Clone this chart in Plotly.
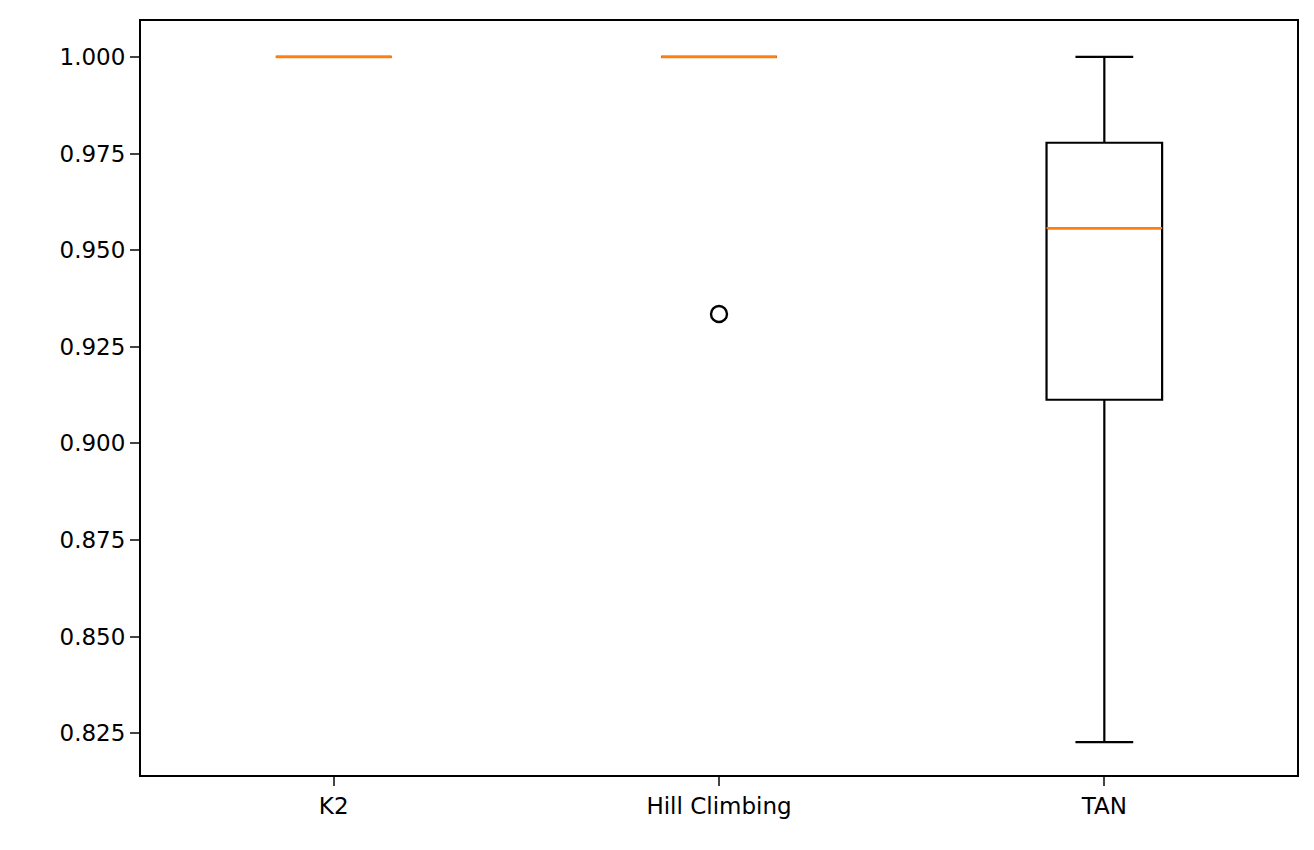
import plotly.graph_objects as go

categories = ["K2", "Hill Climbing", "TAN"]
positions = [1, 2, 3]
q1 = [1.0, 1.0, 0.9113]
median = [1.0, 1.0, 0.9557]
q3 = [1.0, 1.0, 0.9778]
lower = [1.0, 1.0, 0.8227]
upper = [1.0, 1.0, 1.0]
outlier_x = [2]
outlier_y = [0.9335]
yticks = [0.825, 0.850, 0.875, 0.900, 0.925, 0.950, 0.975, 1.000]

fig = go.Figure()
fig.add_trace(go.Box(x=positions, q1=q1, median=median, q3=q3,
                     lowerfence=lower, upperfence=upper, width=0.3,
                     whiskerwidth=0.5, fillcolor="white",
                     line=dict(color="black", width=2.2), boxpoints=False,
                     showlegend=False, hoverinfo="skip"))
for p, m in zip(positions, median):
    fig.add_trace(go.Scatter(x=[p - 0.15, p + 0.15], y=[m, m], mode="lines",
                             line=dict(color="#ff7f0e", width=2.4),
                             showlegend=False, hoverinfo="skip"))
fig.add_trace(go.Scatter(x=outlier_x, y=outlier_y, mode="markers",
                         marker=dict(symbol="circle-open", size=16,
                                     color="black", line=dict(width=2.4)),
                         showlegend=False))

fig.update_layout(
    width=1314, height=850, plot_bgcolor="white", paper_bgcolor="white",
    margin=dict(l=133, r=25, t=11, b=83),
    font=dict(family="DejaVu Sans", size=23, color="black"),
)
fig.update_xaxes(range=[0.5, 3.5], tickvals=positions, ticktext=categories,
                 showgrid=False, zeroline=False, showline=True, mirror=True,
                 linecolor="black", linewidth=2, ticks="outside",
                 ticklen=9, tickwidth=2)
fig.update_yaxes(range=[0.8142, 1.0093], tickvals=yticks,
                 ticktext=[f"{v:.3f}" for v in yticks],
                 showgrid=False, zeroline=False, showline=True, mirror=True,
                 linecolor="black", linewidth=2, ticks="outside",
                 ticklen=9, tickwidth=2)
fig.write_html("out.html")
